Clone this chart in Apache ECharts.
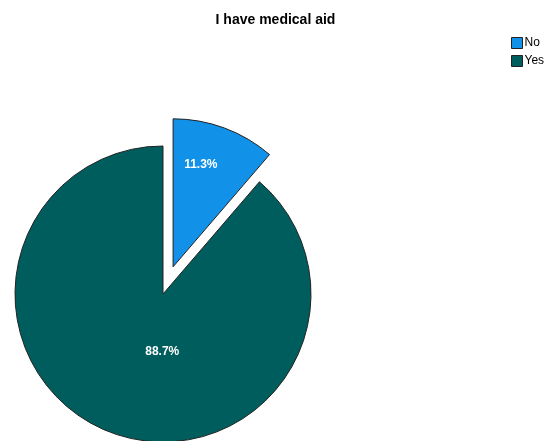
<!DOCTYPE html>
<html>
<head>
<meta charset="utf-8">
<style>
  html, body { margin: 0; padding: 0; background: #fff; }
  #chart { width: 551px; height: 441px; }
</style>
<script src="https://cdn.jsdelivr.net/npm/echarts@6/dist/echarts.min.js"></script>
</head>
<body>
<div id="chart"></div>
<script>
// Survey answers to "I have medical aid", as percentages
const titleText = 'I have medical aid';
const categories = ['No', 'Yes'];
const percents = [11.3, 88.7];
const colors = ['#1192e8', '#005d5d'];

// label nudges so the percentages sit where the slices leave room
const labelOffsets = [[1, -30], [26, -15]];

const chart = echarts.init(document.getElementById('chart'), null, { renderer: 'canvas' });

const data = categories.map((name, i) => ({
  name,
  value: percents[i],
  selected: i === 0,
  itemStyle: { color: colors[i] },
  label: { offset: labelOffsets[i] },
  select: { label: { offset: labelOffsets[i], color: '#fff' } }
}));

chart.setOption({
  animation: false,
  title: {
    text: titleText,
    left: 'center',
    top: 8,
    textStyle: { fontFamily: 'Liberation Sans, Arial, sans-serif', fontSize: 14, fontWeight: 'bold', color: '#000' }
  },
  legend: {
    orient: 'vertical',
    left: 511,
    top: 37,
    padding: 0,
    itemWidth: 11,
    itemHeight: 11,
    itemGap: 6,
    icon: 'rect',
    selectedMode: false,
    data: categories,
    itemStyle: { borderColor: '#222', borderWidth: 1 },
    textStyle: { fontFamily: 'Liberation Sans, Arial, sans-serif', fontSize: 12, lineHeight: 11, color: '#000', padding: [0, 0, 0, -3] }
  },
  series: [{
    type: 'pie',
    center: [163, 294],
    radius: [0, 148],
    startAngle: 90,
    clockwise: true,
    selectedMode: 'single',
    selectedOffset: 29,
    silent: true,
    itemStyle: { borderColor: '#222', borderWidth: 1 },
    label: {
      show: true,
      position: 'inside',
      formatter: p => p.value.toFixed(1) + '%',
      color: '#fff',
      fontFamily: 'Liberation Sans, Arial, sans-serif',
      fontSize: 12,
      fontWeight: 'bold'
    },
    labelLine: { show: false },
    emphasis: { disabled: true },
    select: { itemStyle: { borderColor: '#222', borderWidth: 1 } },
    data
  }]
});
</script>
</body>
</html>
